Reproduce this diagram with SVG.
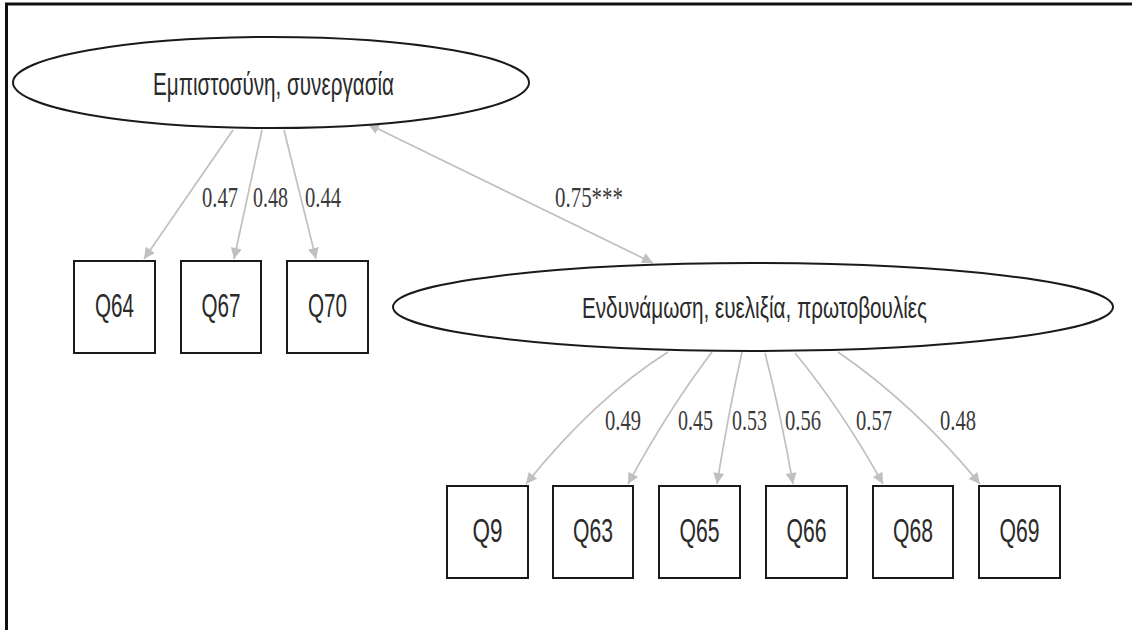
<svg xmlns="http://www.w3.org/2000/svg" width="1132" height="630" viewBox="0 0 1132 630">
<style>
  .node ellipse, .node rect { fill: #ffffff; stroke: #1a1a1a; stroke-width: 2; }
  .ntext { font-family: "Liberation Sans", Arial, sans-serif; fill: #2a2a2a; text-anchor: middle; }
  .elabel { font-family: "Liberation Serif", "Times New Roman", serif; font-size: 30px; fill: #3a3a3a; }
  .edge { fill: none; stroke: #c0c0c0; stroke-width: 1.7; }
  .frame { stroke: #111111; stroke-width: 3; fill: none; }
</style>
<defs>
  <marker id="arr" viewBox="0 0 10 10" refX="10" refY="5" markerUnits="userSpaceOnUse" markerWidth="18" markerHeight="11" orient="auto-start-reverse">
    <path d="M0,0 L10,5 L0,10 z" fill="#c0c0c0"/>
  </marker>
</defs>
<rect width="1132" height="630" fill="#ffffff"/>
<g id="frame">
  <line class="frame" x1="5" y1="4" x2="1132" y2="4"/>
  <line class="frame" x1="6.5" y1="3" x2="6.5" y2="630"/>
</g>
<g id="connectors">
  <path class="edge" d="M233,130 L144,259" marker-end="url(#arr)"/>
  <path class="edge" d="M262,130 L234,259" marker-end="url(#arr)"/>
  <path class="edge" d="M284,130 L316,259" marker-end="url(#arr)"/>
  <path class="edge" d="M368,124 L653,263" marker-start="url(#arr)" marker-end="url(#arr)"/>
  <path class="edge" d="M668,352 Q595,398 526,484" marker-end="url(#arr)"/>
  <path class="edge" d="M712,352 Q668,410 628,484" marker-end="url(#arr)"/>
  <path class="edge" d="M742,352 Q728,415 717,484" marker-end="url(#arr)"/>
  <path class="edge" d="M765,353 Q781,415 793,484" marker-end="url(#arr)"/>
  <path class="edge" d="M795,353 Q842,410 883,484" marker-end="url(#arr)"/>
  <path class="edge" d="M838,352 Q915,405 980,484" marker-end="url(#arr)"/>
  <text class="elabel" x="202" y="207" textLength="36" lengthAdjust="spacingAndGlyphs">0.47</text>
  <text class="elabel" x="253" y="207" textLength="35" lengthAdjust="spacingAndGlyphs">0.48</text>
  <text class="elabel" x="305" y="207" textLength="36" lengthAdjust="spacingAndGlyphs">0.44</text>
  <text class="elabel" x="555" y="207" textLength="68" lengthAdjust="spacingAndGlyphs">0.75***</text>
  <text class="elabel" x="605" y="430" textLength="36" lengthAdjust="spacingAndGlyphs">0.49</text>
  <text class="elabel" x="678" y="430" textLength="35" lengthAdjust="spacingAndGlyphs">0.45</text>
  <text class="elabel" x="732" y="430" textLength="35" lengthAdjust="spacingAndGlyphs">0.53</text>
  <text class="elabel" x="785" y="430" textLength="36" lengthAdjust="spacingAndGlyphs">0.56</text>
  <text class="elabel" x="856" y="430" textLength="36" lengthAdjust="spacingAndGlyphs">0.57</text>
  <text class="elabel" x="940" y="430" textLength="36" lengthAdjust="spacingAndGlyphs">0.48</text>
</g>
<g id="node-trust" class="node">
  <ellipse cx="271" cy="82.5" rx="258" ry="45.5"/>
  <text class="ntext" x="273.5" y="95" font-size="32" textLength="241" lengthAdjust="spacingAndGlyphs">Εμπιστοσύνη, συνεργασία</text>
</g>
<g id="node-empower" class="node">
  <ellipse cx="753" cy="307" rx="360" ry="44"/>
  <text class="ntext" x="754.5" y="318" font-size="30" textLength="345" lengthAdjust="spacingAndGlyphs">Ενδυνάμωση, ευελιξία, πρωτοβουλίες</text>
</g>
<g id="node-Q64" class="node">
  <rect x="74" y="261" width="81" height="92"/>
  <text class="ntext" x="114.5" y="317" font-size="34" textLength="39" lengthAdjust="spacingAndGlyphs">Q64</text>
</g>
<g id="node-Q67" class="node">
  <rect x="181" y="261" width="80" height="92"/>
  <text class="ntext" x="221" y="317" font-size="34" textLength="39" lengthAdjust="spacingAndGlyphs">Q67</text>
</g>
<g id="node-Q70" class="node">
  <rect x="287" y="261" width="81" height="92"/>
  <text class="ntext" x="327.5" y="317" font-size="34" textLength="39" lengthAdjust="spacingAndGlyphs">Q70</text>
</g>
<g id="node-Q9" class="node">
  <rect x="447" y="486" width="81" height="92"/>
  <text class="ntext" x="487.5" y="542" font-size="34" textLength="30" lengthAdjust="spacingAndGlyphs">Q9</text>
</g>
<g id="node-Q63" class="node">
  <rect x="553" y="486" width="80" height="92"/>
  <text class="ntext" x="593" y="542" font-size="34" textLength="40" lengthAdjust="spacingAndGlyphs">Q63</text>
</g>
<g id="node-Q65" class="node">
  <rect x="659" y="486" width="81" height="92"/>
  <text class="ntext" x="699.5" y="542" font-size="34" textLength="40" lengthAdjust="spacingAndGlyphs">Q65</text>
</g>
<g id="node-Q66" class="node">
  <rect x="766" y="486" width="81" height="92"/>
  <text class="ntext" x="806.5" y="542" font-size="34" textLength="40" lengthAdjust="spacingAndGlyphs">Q66</text>
</g>
<g id="node-Q68" class="node">
  <rect x="873" y="486" width="80" height="92"/>
  <text class="ntext" x="913" y="542" font-size="34" textLength="40" lengthAdjust="spacingAndGlyphs">Q68</text>
</g>
<g id="node-Q69" class="node">
  <rect x="979" y="486" width="81" height="92"/>
  <text class="ntext" x="1019.5" y="542" font-size="34" textLength="40" lengthAdjust="spacingAndGlyphs">Q69</text>
</g>
</svg>
